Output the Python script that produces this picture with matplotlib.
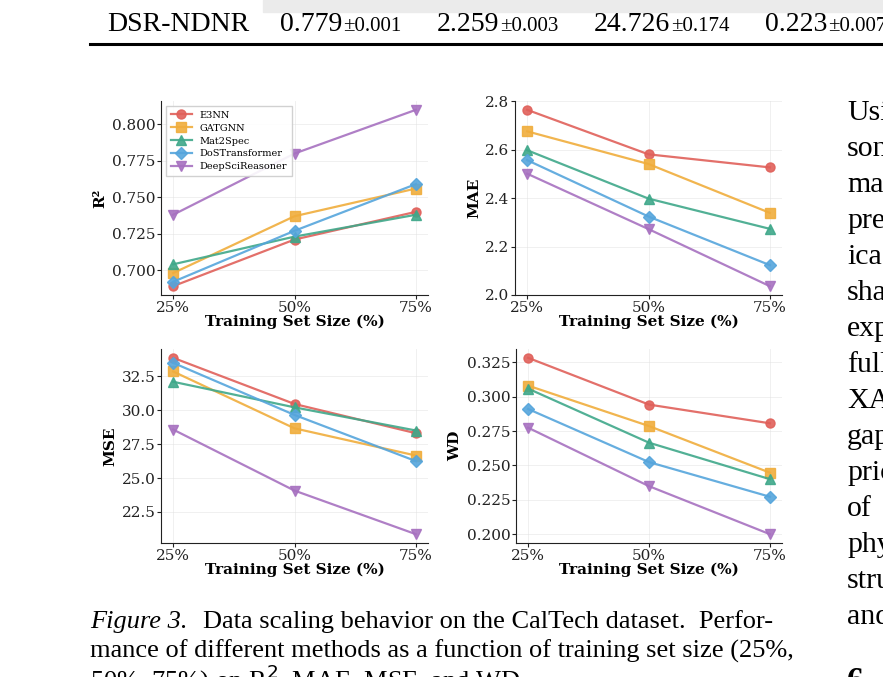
import matplotlib
matplotlib.use("Agg")
import matplotlib.pyplot as plt

# data
sizes = ["25%", "50%", "75%"]
methods = ["E3NN", "GATGNN", "Mat2Spec", "DoSTransformer", "DeepSciReasoner"]
r2 = [[0.689, 0.721, 0.740],
      [0.698, 0.737, 0.756],
      [0.704, 0.723, 0.738],
      [0.692, 0.727, 0.759],
      [0.738, 0.780, 0.810]]
mae = [[2.765, 2.581, 2.527],
       [2.676, 2.541, 2.339],
       [2.598, 2.398, 2.273],
       [2.557, 2.324, 2.123],
       [2.501, 2.272, 2.036]]
mse = [[33.88, 30.47, 28.31],
       [32.87, 28.67, 26.66],
       [32.11, 30.22, 28.51],
       [33.51, 29.66, 26.25],
       [28.58, 24.07, 20.85]]
wd = [[0.3282, 0.2942, 0.2806],
      [0.3080, 0.2786, 0.2447],
      [0.3058, 0.2665, 0.2400],
      [0.2910, 0.2524, 0.2272],
      [0.2774, 0.2349, 0.2000]]

row_name = "DSR-NDNR"
row_means = ["0.779", "2.259", "24.726", "0.223"]
row_stds = ["±0.001", "±0.003", "±0.174", "±0.007"]
caption = ["Data scaling behavior on the CalTech dataset.  Perfor-",
           "mance of different methods as a function of training set size (25%,",
           "50%, 75%) on R$^2$, MAE, MSE, and WD."]
side_text = ["Usi", "son", "ma", "pre", "ica", "sha", "exp", "full",
             "XA", "gap", "pric", "of", "phy", "stru", "and"]

colors = ["#e0605a", "#f0ad3c", "#3fa88a", "#55a5dc", "#a771c0"]
markers = ["o", "s", "^", "D", "v"]

W, H = 883, 677
fig = plt.figure(figsize=(W / 100, H / 100), dpi=100)

def px_axes(l, t, r, b):
    return fig.add_axes([l / W, 1 - b / H, (r - l) / W, (b - t) / H])

panels = [
    (r2, "R²", (161, 101, 428, 295), "{:.3f}"),
    (mae, "MAE", (515, 101, 782, 295), "{:.1f}"),
    (mse, "MSE", (161, 349, 428, 543), "{:.1f}"),
    (wd, "WD", (516, 349, 782, 543), "{:.3f}"),
]

for i, (vals, name, box, fmt) in enumerate(panels):
    ax = px_axes(*box)
    x = list(range(len(sizes)))
    for k, m in enumerate(methods):
        ax.plot(x, vals[k], color=colors[k], marker=markers[k], markersize=6.5,
                linewidth=1.6, alpha=0.9, label=m)
    ax.set_xticks(x)
    ax.set_xticklabels(sizes)
    ax.set_xlim(-0.1, 2.1)
    ax.spines["top"].set_visible(False)
    ax.spines["right"].set_visible(False)
    ax.spines["left"].set_color("#222222")
    ax.spines["bottom"].set_color("#222222")
    ax.grid(True, color="#dddddd", linewidth=0.6, alpha=0.5)
    ax.tick_params(labelsize=11, length=3, pad=1, colors="#222222")
    for lab in ax.get_xticklabels() + ax.get_yticklabels():
        lab.set_family("DejaVu Serif")
    ax.yaxis.set_major_formatter(matplotlib.ticker.FuncFormatter(lambda v, p, f=fmt: f.format(v)))
    ax.set_xlabel("Training Set Size (%)", fontsize=11, fontweight="bold",
                  family="DejaVu Serif", labelpad=0)
    ax.set_ylabel(name, fontsize=11, fontweight="bold", family="DejaVu Serif", labelpad=3)
    if i == 0:
        ax.legend(loc="upper left", prop={"family": "DejaVu Serif", "size": 7},
                  frameon=True, framealpha=0.9, edgecolor="#cccccc", fancybox=False,
                  borderpad=0.5, labelspacing=0.4, handlelength=2.2,
                  bbox_to_anchor=(0.0, 1.0))

# page text around the figure
serif = "Liberation Serif"
fig.patches.append(plt.Rectangle((263 / W, 1 - 12 / H), (W - 263) / W, 12 / H,
                                 transform=fig.transFigure, color="#ebebeb", zorder=0))
fig.add_artist(plt.Line2D([90 / W, 1.0], [1 - 44 / H, 1 - 44 / H], color="black",
                          linewidth=2.2, transform=fig.transFigure))

renderer = fig.canvas.get_renderer()
fig.text(107 / W, 1 - 31 / H, row_name, family=serif, fontsize=20,
         ha="left", va="baseline")
mean_x = [280, 437, 594, 765]
for mx, mv, sv in zip(mean_x, row_means, row_stds):
    t = fig.text(mx / W, 1 - 31 / H, mv, family=serif, fontsize=20,
                 ha="left", va="baseline")
    right = t.get_window_extent(renderer).x1
    fig.text(right / W + 1 / W, 1 - 31 / H, sv, family=serif, fontsize=15,
             ha="left", va="baseline")

cap_size = 19
fig.text(90 / W, 1 - 628 / H, "Figure 3.", family=serif, style="italic",
         fontsize=cap_size, ha="left", va="baseline")
fig.text(203 / W, 1 - 628 / H, caption[0], family=serif, fontsize=cap_size,
         ha="left", va="baseline")
fig.text(90 / W, 1 - 658 / H, caption[1], family=serif, fontsize=cap_size,
         ha="left", va="baseline")
fig.text(90 / W, 1 - 689 / H, caption[2], family=serif, fontsize=cap_size,
         ha="left", va="baseline")

for j, t in enumerate(side_text):
    fig.text(847 / W, 1 - (120 + 36 * j) / H, t, family=serif, fontsize=21.5,
             ha="left", va="baseline")
fig.text(847 / W, 1 - 690 / H, "6", family=serif, fontsize=24, fontweight="bold",
         ha="left", va="baseline")

fig.savefig("out.png", dpi=100)
